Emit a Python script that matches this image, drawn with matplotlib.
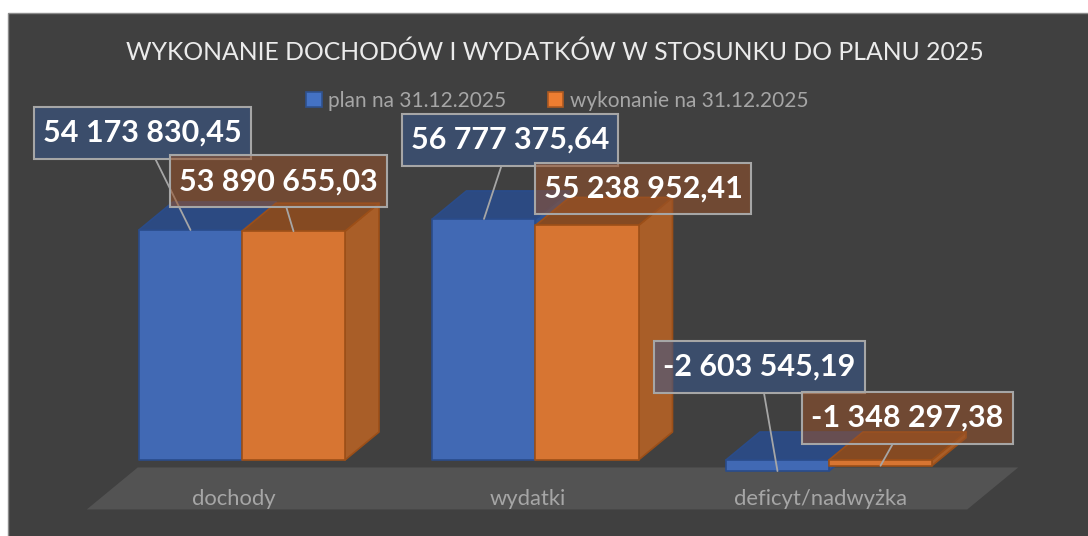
import matplotlib.pyplot as plt
from matplotlib.patches import Polygon, Rectangle, Patch
from matplotlib.path import Path

# data
categories = ['dochody', 'wydatki', 'deficyt/nadwyżka']
series_names = ['plan na 31.12.2025', 'wykonanie na 31.12.2025']
plan = [54173830.45, 56777375.64, -2603545.19]
wykonanie = [53890655.03, 55238952.41, -1348297.38]
title = 'WYKONANIE DOCHODÓW I WYDATKÓW W STOSUNKU DO PLANU 2025'

# label box offsets from the bar end, in pixels (x right, y up)
offs_plan = [(-48, 97), (26, 79), (-18, 104)]
offs_wyk = [(-15, 50), (56, 37), (27, 48)]
leader_wyk = [True, False, True]

# look
BG = '#404040'
FLOOR = '#535353'
blue = dict(front='#4169B4', top='#2C4A82', side='#2F5493', edge='#2A4C8A')
orange = dict(front='#D77532', top='#854A22', side='#A95E28', edge='#9C4F18')
box_blue = (0.22, 0.345, 0.56, 0.55)
box_orange = (0.595, 0.32, 0.16, 0.55)
BAR_W = 0.351
DX, DV = 0.1158, 6.594e6   # oblique depth shift for one unit of depth
AXIS_MIN = -10e6

plt.rcParams['font.family'] = ['Lato', 'DejaVu Sans']

fig = plt.figure(figsize=(10.88, 5.36), dpi=100)
fig.patches.append(Rectangle((8 / 1088, -0.01), 1.0, 1 - 13 / 536 + 0.01, transform=fig.transFigure,
                             fc=BG, ec='#8C8C8C', lw=1.0, zorder=-5))
ax = fig.add_axes([0, 0, 1, 1])
ax.set_xlim(-0.8245, 2.8825)
ax.set_ylim(-17.9e6, 108.34e6)
ax.axis('off')


def p(x, v, z):
    return (x + z * DX, v + z * DV)


def face(pts, fc, ec, z=2):
    ax.add_patch(Polygon(pts, closed=True, fc=fc, ec=ec, lw=1.2, joinstyle='round', zorder=z))


def label_box(x0, y0, width, height, mutation_size):
    # rectangle with more padding top/bottom than left/right
    px, py = 0.29 * mutation_size, 0.39 * mutation_size
    a, b = x0 - px, y0 - py
    c, d = x0 + width + px, y0 + height + py
    return Path([(a, b), (c, b), (c, d), (a, d), (a, b)], closed=True)


# floor
fx0, fx1 = -0.5, len(categories) - 0.5
face([p(fx0, AXIS_MIN, -0.25), p(fx1, AXIS_MIN, -0.25), p(fx1, AXIS_MIN, 1.25), p(fx0, AXIS_MIN, 1.25)],
     FLOOR, 'none', z=1)

for i, cat in enumerate(categories):
    ax.annotate(cat, xy=(i, AXIS_MIN), xytext=(-8, -2.5), textcoords='offset pixels',
                ha='center', va='baseline', fontsize=15.8, color='#A6A6A6', zorder=3)

# bars
for i in range(len(categories)):
    for k, (vals, col) in enumerate([(plan, blue), (wykonanie, orange)]):
        x0 = i - BAR_W + k * BAR_W
        x1 = x0 + BAR_W
        v = vals[i]
        top, bot = max(v, 0), min(v, 0)
        face([p(x1, bot, 0), p(x1, bot, 1), p(x1, top, 1), p(x1, top, 0)], col['side'], col['edge'])
        face([p(x0, top, 0), p(x1, top, 0), p(x1, top, 1), p(x0, top, 1)], col['top'], col['edge'])
        face([p(x0, bot, 0), p(x1, bot, 0), p(x1, top, 0), p(x0, top, 0)], col['front'], col['edge'])


def fmt(v):
    s = f'{v:,.2f}'
    return s.replace(',', ' ').replace('.', ',')


# data labels
for k, (vals, offs, boxc) in enumerate([(plan, offs_plan, box_blue), (wykonanie, offs_wyk, box_orange)]):
    for i, v in enumerate(vals):
        cx = i - BAR_W / 2 + k * BAR_W
        show = True if k == 0 else leader_wyk[i]
        arrow = dict(arrowstyle='-', color='#A6A6A6', lw=1.3, shrinkA=0, shrinkB=0) if show else None
        ax.annotate(fmt(v), xy=(cx, v), xytext=offs[i], textcoords='offset pixels',
                    ha='center', va='center', fontsize=22, fontweight='bold', color='white',
                    bbox=dict(boxstyle=label_box, fc=boxc, ec='#A6A6A6', lw=1.5),
                    arrowprops=arrow, zorder=10)

# title and legend
fig.text(0.51, 1 - 52 / 536, title, ha='center', va='center', fontsize=17.8, color='#EBEBEB')
handles = [Patch(fc='#4472C4', ec='#2F528F', lw=1.2, label=series_names[0]),
           Patch(fc='#ED7D31', ec='#AE5A21', lw=1.2, label=series_names[1])]
leg = fig.legend(handles=handles, loc='center', bbox_to_anchor=(0.512, 1 - 101 / 536), ncol=2,
                 frameon=False, fontsize=15, handlelength=0.75, handleheight=0.75,
                 handletextpad=0.3, columnspacing=2.0, labelcolor='#A6A6A6')

fig.savefig('out.png', dpi=100, facecolor='white')
